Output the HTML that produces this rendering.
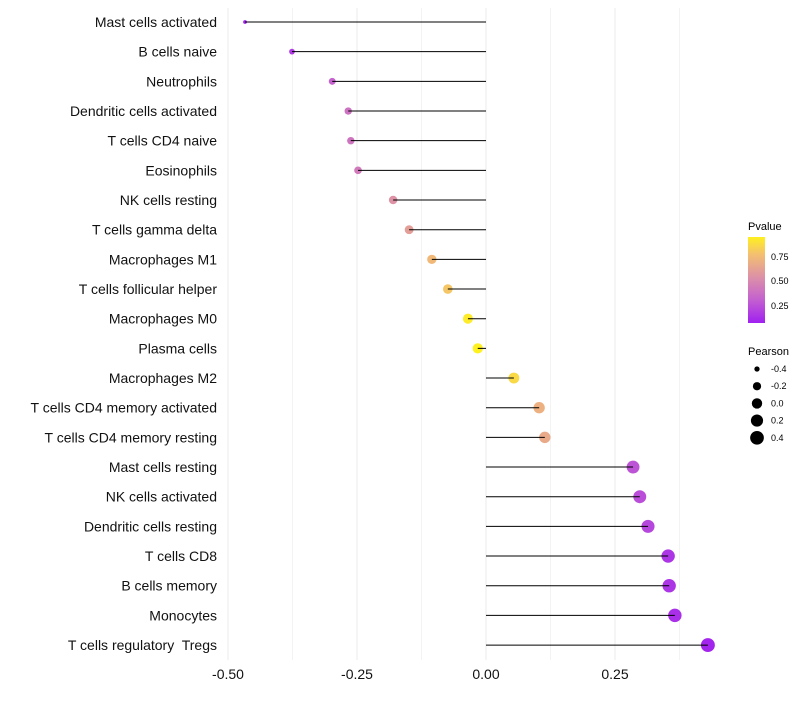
<!DOCTYPE html>
<html><head><meta charset="utf-8"><style>
body{margin:0;background:#fff;font-family:"Liberation Sans",sans-serif}
text{white-space:pre}
</style></head><body>
<svg id="c" width="800" height="700" xmlns="http://www.w3.org/2000/svg">
<defs><linearGradient id="pg" x1="0" y1="1" x2="0" y2="0">
<stop offset="0" stop-color="#a020f0"/><stop offset="0.27" stop-color="#c460d0"/><stop offset="0.53" stop-color="#dc90a8"/><stop offset="0.8" stop-color="#f4c070"/><stop offset="1" stop-color="#fff020"/>
</linearGradient></defs>
<g id="grid"></g>
<g id="dots"></g>
<g id="marks"></g>
<g id="ylab"></g>
<g id="xlab"></g>
<g>
<text x="748" y="230" font-size="11">Pvalue</text>
<rect x="748" y="237" width="17" height="86" fill="url(#pg)"/>
<text x="771" y="260" font-size="9">0.75</text>
<text x="771" y="284" font-size="9">0.50</text>
<text x="771" y="309" font-size="9">0.25</text>
</g>
<g id="sizeleg">
<text x="748" y="355" font-size="11">Pearson</text>
</g>
</svg>
<script>
const cats=["Mast cells activated","B cells naive","Neutrophils","Dendritic cells activated","T cells CD4 naive","Eosinophils","NK cells resting","T cells gamma delta","Macrophages M1","T cells follicular helper","Macrophages M0","Plasma cells","Macrophages M2","T cells CD4 memory activated","T cells CD4 memory resting","Mast cells resting","NK cells activated","Dendritic cells resting","T cells CD8","B cells memory","Monocytes","T cells regulatory  Tregs"];
const pearson=[-0.467,-0.376,-0.298,-0.267,-0.262,-0.248,-0.180,-0.149,-0.105,-0.074,-0.035,-0.016,0.054,0.103,0.114,0.285,0.298,0.314,0.353,0.355,0.366,0.430];
const pvalue=[0.03,0.12,0.28,0.36,0.37,0.40,0.52,0.58,0.72,0.78,0.92,0.95,0.85,0.68,0.64,0.22,0.20,0.17,0.10,0.10,0.08,0.04];
const xticks=[-0.5,-0.25,0,0.25];
const xtickLabels=["-0.50","-0.25","0.00","0.25"];
const sizeVals=[-0.4,-0.2,0.0,0.2,0.4];
const sizeLabels=["-0.4","-0.2","0.0","0.2","0.4"];
const NS="http://www.w3.org/2000/svg";
const x=v=>486+v*516;
const y=i=>22+i*29.67;
const r=v=>Math.sqrt(Math.max(3,27+50*v));
const stops=[[0,[160,32,240]],[0.27,[196,96,208]],[0.53,[220,144,168]],[0.8,[244,192,112]],[1,[255,240,32]]];
function col(p){const t=Math.min(1,Math.max(0,(p-0.02)/0.92));for(let k=1;k<stops.length;k++){if(t<=stops[k][0]){const a=stops[k-1],b=stops[k],f=(t-a[0])/(b[0]-a[0]);return "rgb("+a[1].map((c,j)=>Math.round(c+(b[1][j]-c)*f)).join(",")+")";}}return "rgb(255,240,32)";}
function mk(t,a,p){const e=document.createElementNS(NS,t);for(const k in a)e.setAttribute(k,a[k]);p.appendChild(e);return e;}
const grid=document.getElementById('grid'),marks=document.getElementById('marks'),dots=document.getElementById('dots'),yl=document.getElementById('ylab'),xl=document.getElementById('xlab'),sl=document.getElementById('sizeleg');
[-0.375,-0.125,0.125,0.375].forEach(v=>{const l=mk('line',{x1:x(v),x2:x(v),y1:8,y2:660,stroke:'#f3f3f3','stroke-width':1},grid);});
xticks.forEach((v,i)=>{const l=mk('line',{x1:x(v),x2:x(v),y1:8,y2:660,stroke:'#ebebeb','stroke-width':1},grid);
const t=mk('text',{x:x(v),y:679,'font-size':14,'text-anchor':'middle',fill:'#111'},xl);t.textContent=xtickLabels[i];});
cats.forEach((c,i)=>{const yy=y(i);
const t=mk('text',{x:217,y:yy+5,'font-size':14,'text-anchor':'end',fill:'#111'},yl);t.textContent=c;
const d=mk('circle',{cx:x(pearson[i]),cy:yy,r:r(pearson[i]),fill:col(pvalue[i])},dots);
const l=mk('line',{x1:x(0),x2:x(pearson[i]),y1:yy,y2:yy,stroke:'#000','stroke-width':1},marks);});
sizeVals.forEach((v,i)=>{const yy=369+i*17.2;
const d=mk('circle',{cx:757,cy:yy,r:r(v),fill:'#000'},sl);
const t=mk('text',{x:771,y:yy+3,'font-size':9},sl);t.textContent=sizeLabels[i];});
</script>
</body></html>
